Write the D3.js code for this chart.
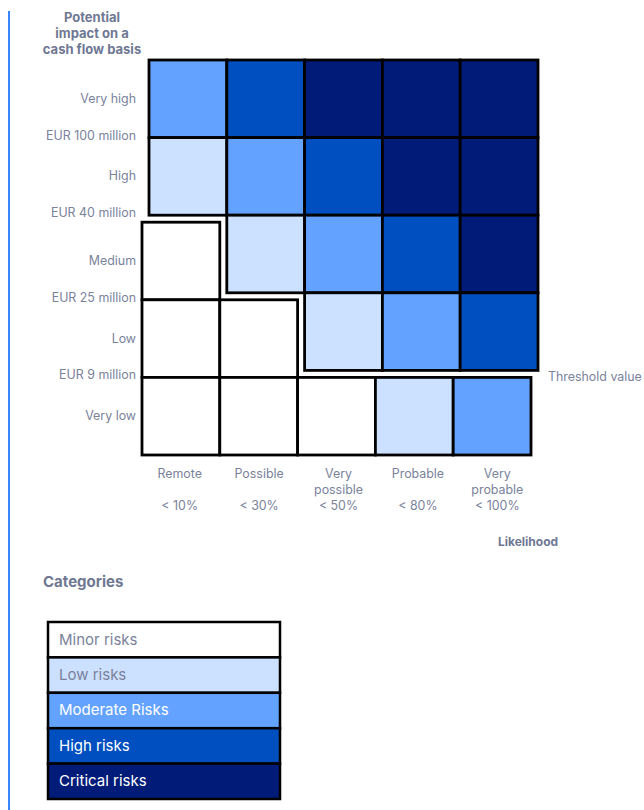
<!DOCTYPE html>
<html>
<head>
<meta charset="utf-8">
<script src="https://cdn.jsdelivr.net/npm/d3@7"></script>
<style>
  body { margin: 0; background: #fff; }
  svg { display: block; font-family: Inter, "Noto Sans", sans-serif; }
</style>
</head>
<body>
<div id="chart"></div>
<script>
// Impact rows (top to bottom) and likelihood columns
const impactLevels = ['Very high', 'High', 'Medium', 'Low', 'Very low'];
const impactThresholds = ['EUR 100 million', 'EUR 40 million', 'EUR 25 million', 'EUR 9 million'];
const likelihoods = ['Remote', 'Possible', 'Very possible', 'Probable', 'Very probable'];
const likelihoodLabels = [['Remote'], ['Possible'], ['Very', 'possible'], ['Probable'], ['Very', 'probable']];
const likelihoodRanges = ['< 10%', '< 30%', '< 50%', '< 80%', '< 100%'];

// Risk category per cell: 0 minor .. 4 critical
const riskMatrix = [
    [2, 3, 4, 4, 4],
    [1, 2, 3, 4, 4],
    [0, 1, 2, 3, 4],
    [0, 0, 1, 2, 3],
    [0, 0, 0, 1, 2]
];
// number of rows (from the bottom) below the threshold line, per column
const rowsBelowThreshold = [3, 2, 1, 1, 1];

const categories = ['Minor risks', 'Low risks', 'Moderate Risks', 'High risks', 'Critical risks'];
const categoryColors = ['#ffffff', '#cce0ff', '#63a3ff', '#004fc0', '#001b78'];
const categoryText = ['#7a829b', '#7a829b', '#ffffff', '#ffffff', '#ffffff'];

const width = 644;
const height = 810;
const textColor = '#7a829b';
const labelSize = 12.4;

const svg = d3.select('#chart')
    .append('svg')
    .attr('width', width)
    .attr('height', height);

// left accent line
svg.append('line')
    .attr('x1', 9).attr('x2', 9)
    .attr('y1', 11).attr('y2', height)
    .attr('stroke', '#3a86ff')
    .attr('stroke-width', 2);

// Two grids: cells above the threshold, and cells below it (shifted down-left)
const xUpper = d3.scaleBand().domain(likelihoods).range([149, 538]);
const yUpper = d3.scaleBand().domain(impactLevels).range([60, 448]);
const xLower = d3.scaleBand().domain(likelihoods).range([142, 531]);
const yLower = d3.scaleBand().domain(impactLevels).range([67, 455]);

const cells = [];
riskMatrix.forEach((row, r) => {
    row.forEach((level, c) => {
        const below = (impactLevels.length - r) <= rowsBelowThreshold[c];
        cells.push({ impact: impactLevels[r], likelihood: likelihoods[c], level, below });
    });
});

const cellG = svg.append('g');
cellG.selectAll('rect')
    .data(cells)
    .enter()
    .append('rect')
    .attr('x', d => d.below ? xLower(d.likelihood) : xUpper(d.likelihood))
    .attr('y', d => d.below ? yLower(d.impact) : yUpper(d.impact))
    .attr('width', xUpper.bandwidth())
    .attr('height', yUpper.bandwidth())
    .attr('fill', d => categoryColors[d.level])
    .attr('stroke', '#000')
    .attr('stroke-width', 2.8);

// Y axis title
svg.append('text')
    .attr('x', 92)
    .attr('font-size', 13)
    .attr('font-weight', 700)
    .attr('fill', '#6f7893')
    .attr('text-anchor', 'middle')
    .selectAll('tspan')
    .data(['Potential', 'impact on a', 'cash flow basis'])
    .enter()
    .append('tspan')
    .attr('x', 92)
    .attr('y', (d, i) => 22 + i * 16)
    .text(d => d);

// row labels: use the grid of each row's leftmost cell
const rowBelow = r => (impactLevels.length - r) <= rowsBelowThreshold[0];
svg.append('g')
    .selectAll('text')
    .data(impactLevels)
    .enter()
    .append('text')
    .attr('x', 136)
    .attr('y', (d, i) => {
        const y = rowBelow(i) ? yLower : yUpper;
        return y(d) + y.bandwidth() / 2 + 4;
    })
    .attr('text-anchor', 'end')
    .attr('font-size', labelSize)
    .attr('fill', textColor)
    .text(d => d);

svg.append('g')
    .selectAll('text')
    .data(impactThresholds)
    .enter()
    .append('text')
    .attr('x', 136)
    .attr('y', (d, i) => {
        const y = rowBelow(i) ? yLower : yUpper;
        return y(impactLevels[i]) + y.bandwidth() + 2;
    })
    .attr('text-anchor', 'end')
    .attr('font-size', labelSize)
    .attr('fill', textColor)
    .text(d => d);

// column labels
const xLabel = d3.scaleBand().domain(likelihoods).range([140, 537]);
const colLabels = svg.append('g')
    .selectAll('g')
    .data(likelihoods)
    .enter()
    .append('g')
    .attr('transform', d => `translate(${xLabel(d) + xLabel.bandwidth() / 2},0)`);

colLabels.append('text')
    .attr('text-anchor', 'middle')
    .attr('font-size', labelSize)
    .attr('fill', textColor)
    .selectAll('tspan')
    .data((d, i) => likelihoodLabels[i])
    .enter()
    .append('tspan')
    .attr('x', 0)
    .attr('y', (d, i) => 478 + i * 16)
    .text(d => d);

colLabels.append('text')
    .attr('y', 510)
    .attr('text-anchor', 'middle')
    .attr('font-size', labelSize)
    .attr('fill', textColor)
    .text((d, i) => likelihoodRanges[i]);

svg.append('text')
    .attr('x', 528)
    .attr('y', 546)
    .attr('text-anchor', 'middle')
    .attr('font-size', 12)
    .attr('font-weight', 700)
    .attr('fill', '#6f7893')
    .text('Likelihood');

svg.append('text')
    .attr('x', 548)
    .attr('y', yLower('Very low') + 4)
    .attr('font-size', labelSize)
    .attr('fill', textColor)
    .text('Threshold value');

// Legend
svg.append('text')
    .attr('x', 43)
    .attr('y', 587)
    .attr('font-size', 15)
    .attr('font-weight', 700)
    .attr('fill', '#6f7893')
    .text('Categories');

const legendY = d3.scaleBand().domain(categories).range([622, 799]);
const legend = svg.append('g')
    .selectAll('g')
    .data(categories)
    .enter()
    .append('g')
    .attr('transform', d => `translate(48,${legendY(d)})`);

legend.append('rect')
    .attr('width', 232)
    .attr('height', legendY.bandwidth())
    .attr('fill', (d, i) => categoryColors[i])
    .attr('stroke', '#000')
    .attr('stroke-width', 2.5);

legend.append('text')
    .attr('x', 11)
    .attr('y', legendY.bandwidth() / 2 + 5)
    .attr('font-size', 15)
    .attr('fill', (d, i) => categoryText[i])
    .text(d => d);
</script>
</body>
</html>
